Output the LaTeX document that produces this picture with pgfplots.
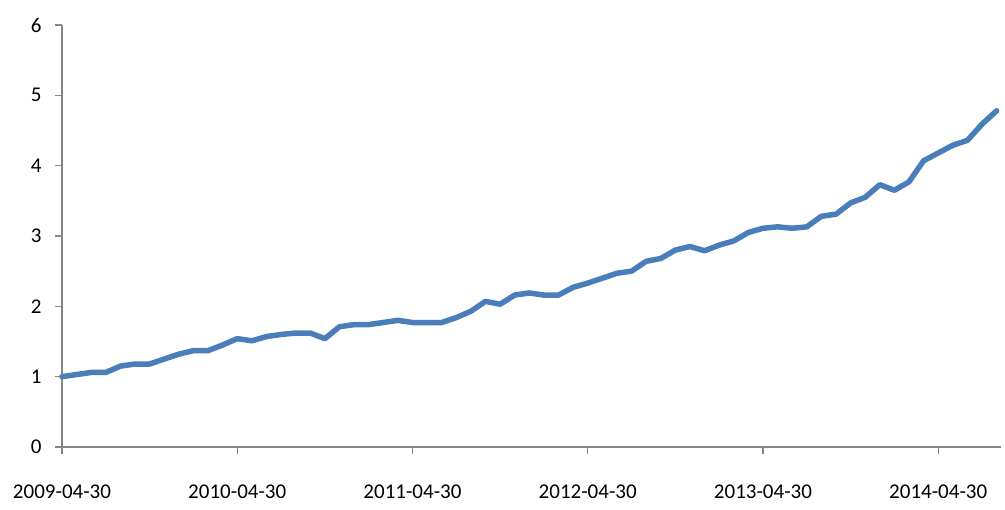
\documentclass[border=0pt]{standalone}
\usepackage{pgfplots}
\pgfplotsset{compat=1.18}
\usepackage{fontspec}
\setmainfont{Carlito}
\definecolor{lineblue}{RGB}{74,126,187}
\definecolor{axisgrey}{RGB}{134,134,134}
\begin{document}
\begin{tikzpicture}[x=1pt,y=1pt]
\useasboundingbox (0,0) rectangle (1005,510);
\begin{axis}[
  at={(62pt,63pt)}, anchor=south west,
  scale only axis,
  width=939pt, height=422pt,
  xmin=0, xmax=64.3, ymin=0, ymax=6,
  axis x line*=bottom, axis y line*=left,
  axis line style={axisgrey, line width=1.3pt},
  tick style={axisgrey, line width=1.3pt},
  tick align=outside,
  major tick length=7pt,
  xtick={0,12,24,36,48,60},
  xticklabels={2009-04-30,2010-04-30,2011-04-30,2012-04-30,2013-04-30,2014-04-30},
  ytick={0,1,2,3,4,5,6},
  /pgf/number format/assume math mode=true,
  ticklabel style={font=\fontsize{21}{25}\selectfont, text=black},
  xticklabel style={yshift=-27pt},
  yticklabel style={xshift=-10pt},
  clip=false,
]
\addplot[lineblue, line width=5.5pt, line join=round, line cap=round] coordinates {
(0,1.00) (1,1.03) (2,1.06) (3,1.06) (4,1.15) (5,1.18) (6,1.18) (7,1.25) (8,1.32) (9,1.37)
(10,1.37) (11,1.45) (12,1.54) (13,1.51) (14,1.57) (15,1.60) (16,1.62) (17,1.62) (18,1.54) (19,1.71)
(20,1.74) (21,1.74) (22,1.77) (23,1.80) (24,1.77) (25,1.77) (26,1.77) (27,1.84) (28,1.93) (29,2.07)
(30,2.03) (31,2.16) (32,2.19) (33,2.16) (34,2.16) (35,2.27) (36,2.33) (37,2.40) (38,2.47) (39,2.50)
(40,2.64) (41,2.68) (42,2.80) (43,2.85) (44,2.79) (45,2.87) (46,2.93) (47,3.05) (48,3.11) (49,3.13)
(50,3.11) (51,3.13) (52,3.28) (53,3.31) (54,3.47) (55,3.55) (56,3.73) (57,3.65) (58,3.77) (59,4.07)
(60,4.18) (61,4.29) (62,4.36) (63,4.59) (64,4.78)
};
\end{axis}
\end{tikzpicture}
\end{document}
